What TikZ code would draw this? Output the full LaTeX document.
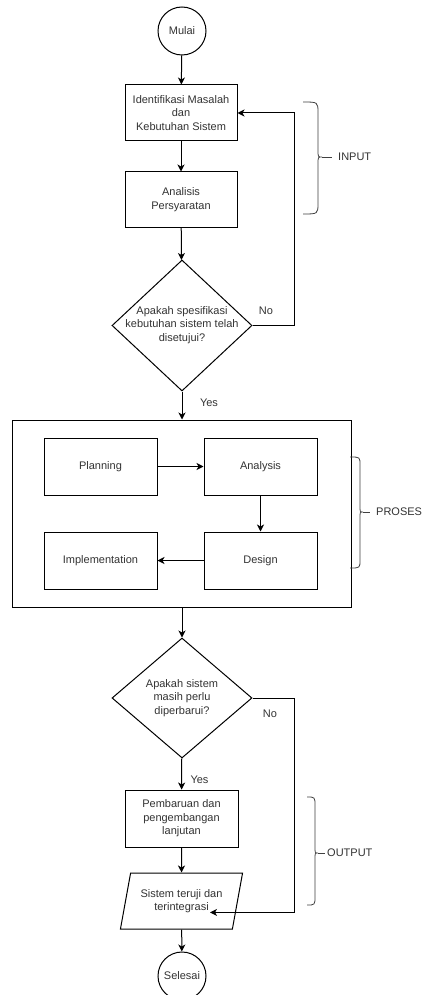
\documentclass[tikz,border=0pt]{standalone}
\usepackage{fontspec}
\setmainfont{Liberation Sans}
\usetikzlibrary{shapes.geometric,arrows.meta,calc}
\definecolor{txtc}{HTML}{333333}
\tikzset{
  base/.style={draw=black, line width=1pt, text=txtc, font=\fontsize{11}{13.5}\selectfont, align=center, inner sep=0pt},
  proc/.style={base, rectangle, minimum width=112pt, minimum height=56pt},
  term/.style={base, circle, minimum size=48pt},
  dec/.style={base, diamond, minimum width=140pt},
  io/.style={base, trapezium, trapezium left angle=71, trapezium right angle=109, trapezium stretches=true, minimum width=123pt, minimum height=56pt},
  lbl/.style={text=txtc, font=\fontsize{11}{13.5}\selectfont, align=center, inner sep=0pt},
  arr/.style={line width=1pt, -{Stealth[length=7pt,width=7pt,inset=2pt]}},
  ln/.style={line width=1pt},
  brc/.style={line width=0.8pt, draw=black!75},
}
\begin{document}
\begin{tikzpicture}[x=1pt,y=-1pt]
\useasboundingbox (0,0) rectangle (424,995);
\fill[white] (0,0) rectangle (424,995);

\node[term] (mulai) at (182,31) {Mulai};
\node[proc] (b1) at (181,113) {Identifikasi Masalah\\dan\\Kebutuhan Sistem};
\node[proc, minimum height=55pt] (b2) at (181,199.5) {Analisis\\Persyaratan};
\node[dec, minimum height=131pt] (d1) at (182,325.5) {};
\node[lbl] (d1t) at (182,325) {Apakah spesifikasi\\kebutuhan sistem telah\\disetujui?};

\node[base, rectangle, minimum width=339pt, minimum height=187pt] (big) at (181.5,513.5) {};
\node[proc, minimum width=113pt, minimum height=57pt] (plan) at (100.5,466.5) {Planning};
\node[proc, minimum width=113pt, minimum height=57pt] (ana) at (260.5,466.5) {Analysis};
\node[proc, minimum width=113pt, minimum height=57pt] (impl) at (100.5,560.5) {Implementation};
\node[proc, minimum width=113pt, minimum height=57pt] (des) at (260.5,560.5) {Design};

\node[dec, minimum height=120pt] (d2) at (182,698) {};
\node[lbl] (d2t) at (182,698) {Apakah sistem\\masih perlu\\diperbarui?};
\node[proc, minimum width=113pt, minimum height=57pt] (b3) at (181.5,818.5) {Pembaruan dan\\pengembangan\\lanjutan};
\node[io] (io) at (181.5,901) {Sistem teruji dan\\terintegrasi};
\node[term] (selesai) at (182,976) {Selesai};

% connectors
\draw[arr] (mulai) -- (b1);
\draw[arr] (b1) -- (b2);
\draw[arr] (b2) -- (d1);
\draw[arr] (d1.south) -- (d1.south |- big.north);
\draw[arr] (d1.east) -- ++(42,0) |- (b1.east);
\draw[arr] (plan) -- (ana);
\draw[arr] (ana) -- (des);
\draw[arr] (des) -- (impl);
\draw[arr] (big.south -| d2.north) -- (d2.north);
\draw[arr] (d2) -- (b3);
\coordinate (ioin) at ($(io.south east)!0.3!(io.north east)$);
\draw[arr] (d2.east) -- ++(42,0) |- (ioin);
\draw[arr] (b3) -- (io);
\draw[arr] (io) -- (selesai);

% edge labels
\node[lbl] (no1) at (266,311) {No};
\node[lbl] (yes1) at (209,403) {Yes};
\node[lbl] (no2) at (270,714) {No};
\node[lbl] (yes2) at (199.5,780) {Yes};

% braces
\draw[brc] (303,102) .. controls (318,102) .. (318,113) -- (318,150) .. controls (318,157) .. (322,157) .. controls (318,157) .. (318,164) -- (318,203) .. controls (318,214) .. (303,214);
\draw[brc] (322,157) -- (332,157);
\node[lbl, anchor=west] (inp) at (338,157) {INPUT};

\draw[brc] (350,457) .. controls (360,457) .. (360,465) -- (360,506) .. controls (360,512) .. (363,512) .. controls (360,512) .. (360,518) -- (360,560) .. controls (360,568) .. (350,568);
\draw[brc] (363,512) -- (370,512);
\node[lbl, anchor=west] (pros) at (376,512) {PROSES};

\draw[brc] (307,797) .. controls (315,797) .. (315,806) -- (315,847) .. controls (315,853) .. (318,853) .. controls (315,853) .. (315,859) -- (315,896) .. controls (315,905) .. (307,905);
\draw[brc] (318,853) -- (325,853);
\node[lbl, anchor=west] (outp) at (327,853) {OUTPUT};
\end{tikzpicture}
\end{document}
